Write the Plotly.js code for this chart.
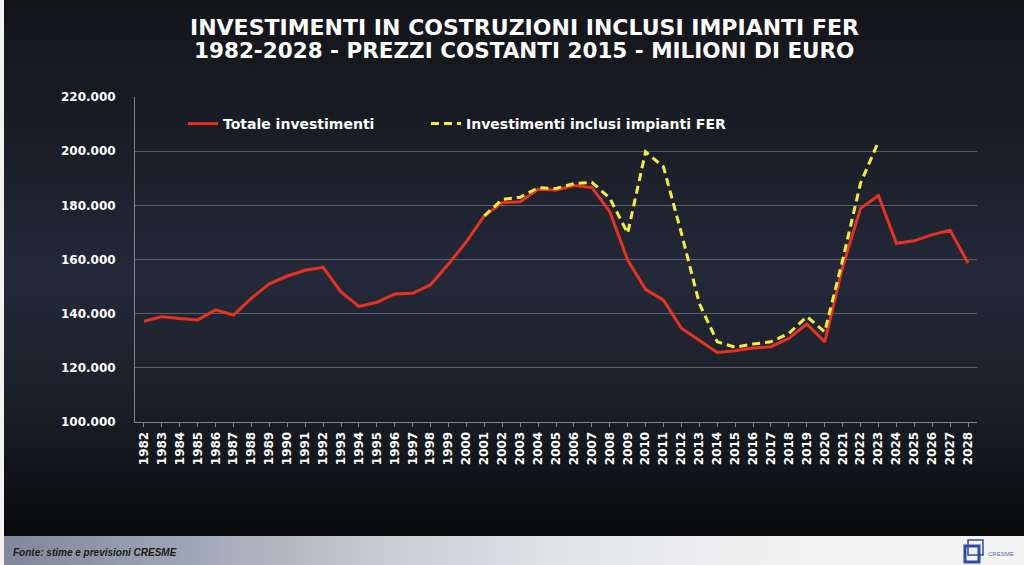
<!DOCTYPE html>
<html>
<head>
<meta charset="utf-8">
<script src="https://cdn.plot.ly/plotly-3.0.1.min.js"></script>
<style>
  html, body { margin:0; padding:0; background:#ffffff; }
  #wrap { position:relative; width:1024px; height:565px; overflow:hidden;
    background: linear-gradient(to bottom, #131519 0%, #191c24 22%, #232939 48%, #1c2029 70%, #0b0c0f 92%, #060607 100%); }
  #footer { position:absolute; left:0; top:536px; width:1024px; height:29px;
    background: linear-gradient(to right, #7f8798 0%, #9ea5b3 18%, #c9ccd3 38%, #e6e7ea 58%, #f1f1f1 78%, #f4f4f4 100%); }
  #strip { position:absolute; left:0; top:0; width:4px; height:565px; background:#f2f2f2; }
  #chart { position:absolute; left:0; top:0; width:1024px; height:565px; }
</style>
</head>
<body>
<div id="wrap">
  <div id="footer"></div>
  <div id="strip"></div>
  <div id="chart"></div>
</div>
<script>
const years = ["1982","1983","1984","1985","1986","1987","1988","1989","1990","1991",
  "1992","1993","1994","1995","1996","1997","1998","1999","2000","2001",
  "2002","2003","2004","2005","2006","2007","2008","2009","2010","2011",
  "2012","2013","2014","2015","2016","2017","2018","2019","2020","2021",
  "2022","2023","2024","2025","2026","2027","2028"];

const totaleInvestimenti = [137200,138900,138200,137700,141400,139500,145700,151000,153900,156000,
  157100,148000,142700,144200,147300,147500,150700,158300,166600,176100,
  181000,181300,185900,185700,187300,186600,177700,159800,149000,145000,
  134600,130000,125700,126300,127300,127800,130900,136200,129600,157300,
  178900,183600,166000,166900,169200,170800,158700];

const inclusiFER = [null,null,null,null,null,null,null,null,null,null,
  null,null,null,null,null,null,null,null,null,176100,
  182200,183000,186500,186200,188000,188500,182700,169700,199800,194200,
  169700,143800,129600,127600,128800,129600,132700,138900,133300,159800,
  188200,203500,null,null,null,null,null];

const yTicks = [100000,120000,140000,160000,180000,200000,220000];

const titleLine1 = "INVESTIMENTI IN COSTRUZIONI INCLUSI IMPIANTI FER";
const titleLine2 = "1982-2028 - PREZZI COSTANTI 2015 - MILIONI DI EURO";
const fonte = "Fonte: stime e previsioni CRESME";

const traces = [
  { x: years, y: totaleInvestimenti, type:'scatter', mode:'lines', name:'Totale investimenti',
    line:{color:'#e8321f', width:3}, legend:'legend' },
  { x: years, y: inclusiFER, type:'scatter', mode:'lines', name:'Investimenti inclusi impianti FER',
    line:{color:'#f4f03a', width:3, dash:'8px,5px'}, connectgaps:false, legend:'legend2' }
];

// plot area: x 135..977, y 97..422
const L = 135, R = 977, T = 97, B = 422;
const px = (x) => (x - L) / (R - L);
const py = (y) => (B - y) / (B - T);

const legendFont = {family:'DejaVu Sans', size:14, color:'#ffffff', weight:'bold'};

const layout = {
  width:1024, height:565,
  margin:{l:L, r:1024-R, t:T, b:565-B, pad:0},
  paper_bgcolor:'rgba(0,0,0,0)', plot_bgcolor:'rgba(0,0,0,0)',
  separators:',.',
  showlegend:true,
  legend:{orientation:'h', x:px(183), y:py(108), xanchor:'left', yanchor:'top',
    bgcolor:'rgba(0,0,0,0)', font:legendFont, itemwidth:30},
  legend2:{orientation:'h', x:px(426), y:py(108), xanchor:'left', yanchor:'top',
    bgcolor:'rgba(0,0,0,0)', font:legendFont, itemwidth:30},
  xaxis:{type:'category', range:[-0.5, years.length-0.5], showgrid:false,
    showline:true, linecolor:'#80838a', linewidth:1, ticks:'outside', ticklen:4, tickcolor:'#80838a',
    tickangle:-90, tickfont:{family:'DejaVu Sans', size:12, color:'#ffffff', weight:'bold'},
    zeroline:false, fixedrange:true},
  yaxis:{range:[100000,220000], tickvals:yTicks, tickformat:',.0f', showgrid:true,
    gridcolor:'#5b5f67', gridwidth:1, showline:true, linecolor:'#80838a', linewidth:1,
    ticks:'', ticklabelstandoff:16,
    tickfont:{family:'DejaVu Sans', size:12, color:'#ffffff', weight:'bold'},
    zeroline:false, fixedrange:true},
  annotations:[
    {text:titleLine1, xref:'paper', yref:'paper', x:px(524), y:py(27), xanchor:'center', yanchor:'middle',
      showarrow:false, font:{family:'DejaVu Sans', size:22, color:'#ffffff', weight:'bold'}},
    {text:titleLine2, xref:'paper', yref:'paper', x:px(524), y:py(50), xanchor:'center', yanchor:'middle',
      showarrow:false, font:{family:'DejaVu Sans', size:21.5, color:'#ffffff', weight:'bold'}},
    {text:'<i>'+fonte+'</i>', xref:'paper', yref:'paper', x:px(11), y:py(552), xanchor:'left', yanchor:'middle',
      showarrow:false, font:{family:'Liberation Sans', size:10, color:'#1a1a1a', weight:'bold'}},
    {text:'CRESME', xref:'paper', yref:'paper', x:px(986), y:py(554), xanchor:'left', yanchor:'middle',
      showarrow:false, font:{family:'Liberation Sans', size:6, color:'#5a6a9a'}}
  ],
  shapes:[
    {type:'rect', xref:'paper', yref:'paper', x0:px(968), x1:px(983), y0:py(555), y1:py(540),
      line:{color:'#2e4aa6', width:1.5}, fillcolor:'rgba(0,0,0,0)'},
    {type:'rect', xref:'paper', yref:'paper', x0:px(965), x1:px(979), y0:py(562), y1:py(546),
      line:{color:'#2e4aa6', width:3}, fillcolor:'rgba(0,0,0,0)'}
  ]
};

Plotly.newPlot('chart', traces, layout, {staticPlot:true, displayModeBar:false});
</script>
</body>
</html>
